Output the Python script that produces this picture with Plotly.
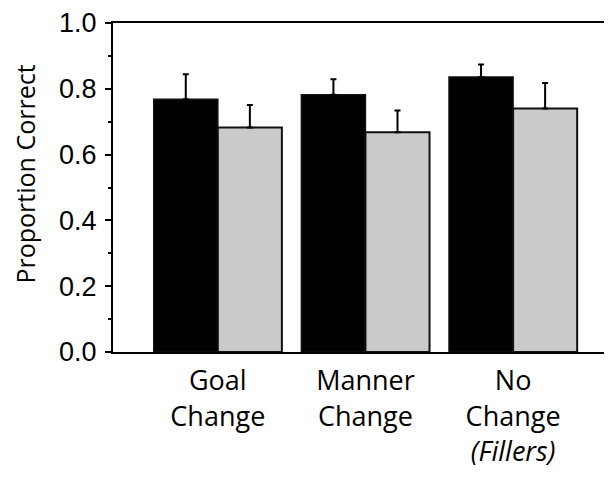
import plotly.graph_objects as go

categories = ["Goal<br>Change", "Manner<br>Change", "No<br>Change<br><i>(Fillers)</i>"]
black_values = [0.768, 0.782, 0.836]
black_errors = [0.076, 0.047, 0.038]
gray_values = [0.682, 0.668, 0.740]
gray_errors = [0.069, 0.066, 0.078]
y_ticks = [0.0, 0.2, 0.4, 0.6, 0.8, 1.0]
y_tick_labels = ["0.0", "0.2", "0.4", "0.6", "0.8", "1.0"]
y_title = "Proportion Correct"

fig = go.Figure()
fig.add_trace(go.Bar(
    x=categories, y=black_values, name="black",
    marker=dict(color="black", line=dict(color="#111111", width=1.5)),
    error_y=dict(type="data", array=black_errors, arrayminus=[0]*3, symmetric=False,
                 color="black", thickness=2, width=3),
))
fig.add_trace(go.Bar(
    x=categories, y=gray_values, name="gray",
    marker=dict(color="#cacaca", line=dict(color="#111111", width=2)),
    error_y=dict(type="data", array=gray_errors, arrayminus=[0]*3, symmetric=False,
                 color="black", thickness=2, width=3),
))

fig.add_annotation(
    text=y_title, textangle=-90,
    xref="paper", yref="paper", x=-0.176, y=0.54,
    xanchor="center", yanchor="middle", showarrow=False,
    font=dict(family="Open Sans, sans-serif", size=25, color="black"),
)

fig.update_layout(
    width=604, height=472,
    margin=dict(l=105, r=0, t=7, b=128),
    plot_bgcolor="white", paper_bgcolor="white",
    barmode="group", bargap=0.132, bargroupgap=0,
    showlegend=False,
    xaxis=dict(
        range=[-0.71, 2.67],
        showline=True, linecolor="black", linewidth=2, mirror=True,
        layer="below traces",
        ticks="", showgrid=False, zeroline=False,
        tickfont=dict(family="Open Sans, Lato, sans-serif", size=27, color="black"),
        ticklabelstandoff=4,
    ),
    yaxis=dict(
        range=[0, 1.0],
        tickvals=y_ticks, ticktext=y_tick_labels,
        showline=True, linecolor="black", linewidth=2,
        ticks="outside", ticklen=6, tickwidth=2, tickcolor="black",
        minor=dict(dtick=0.1, ticks="outside", ticklen=3, tickwidth=1.5, tickcolor="black"),
        showgrid=False, zeroline=False,
        ticklabeloverflow="allow",
        ticklabelstandoff=3,
        tickfont=dict(family="Liberation Sans, Arial, sans-serif", size=27, color="black"),
    ),
)

fig.write_html("out.html")
